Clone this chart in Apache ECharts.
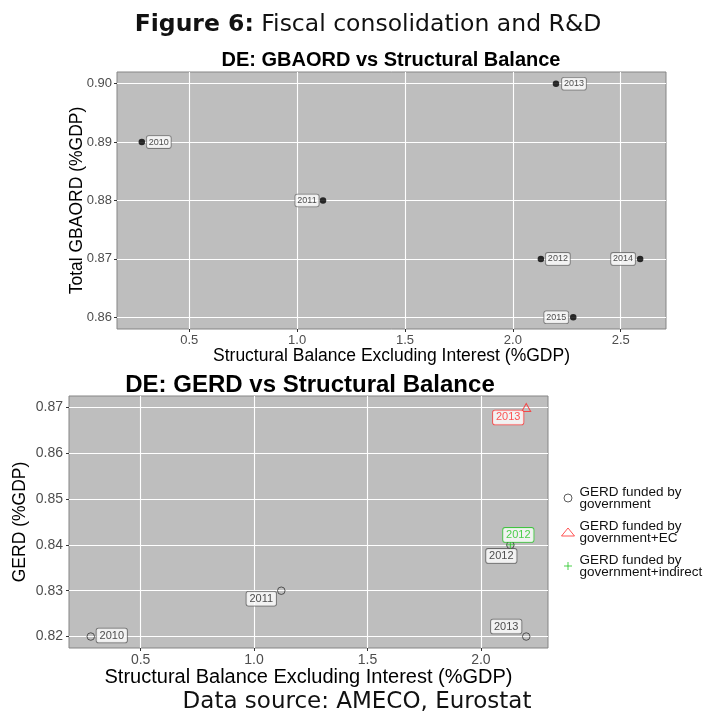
<!DOCTYPE html>
<html><head><meta charset="utf-8">
<script src="https://cdn.jsdelivr.net/npm/echarts@6/dist/echarts.min.js"></script>
<style>html,body{margin:0;padding:0;background:#fff}#c{width:710px;height:721px}</style>
</head><body><div id="c"></div>
<script>
// ---- data ----
const gbaordYears = ['2010', '2011', '2012', '2013', '2014', '2015'];
const gbaordSB    = [0.28, 1.12, 2.13, 2.20, 2.59, 2.28];
const gbaordVal   = [0.89, 0.88, 0.87, 0.90, 0.87, 0.86];

const gerdGovYears = ['2010', '2011', '2012', '2013'];
const gerdGovSB    = [0.28, 1.12, 2.13, 2.20];
const gerdGovVal   = [0.82, 0.83, 0.84, 0.82];

const gerdEcYears = ['2013'];
const gerdEcSB    = [2.20];
const gerdEcVal   = [0.87];

const gerdIndYears = ['2012'];
const gerdIndSB    = [2.13];
const gerdIndVal   = [0.84];

const topXTicks = [0.5, 1.0, 1.5, 2.0, 2.5];
const topYTicks = [0.86, 0.87, 0.88, 0.89, 0.90];
const botXTicks = [0.5, 1.0, 1.5, 2.0];
const botYTicks = [0.82, 0.83, 0.84, 0.85, 0.86, 0.87];

const legendNames = ['GERD funded by\ngovernment', 'GERD funded by\ngovernment+EC', 'GERD funded by\ngovernment+indirect'];

// ---- label placement (style only) ----
const gbaordLabelOffset = [[17, 0], [-16, 0], [17, 0], [18, 0], [-17, 0], [-17, 0]];
const gerdGovLabelOffset = [[21, -1], [-20, 8], [-9, 11], [-20, -10]];
const gerdEcLabelOffset = [[-18, 10]];
const gerdIndLabelOffset = [[8, -10]];

const FONT = "'Liberation Sans', Arial, Helvetica, sans-serif";
const RED = '#ff2a2a', GREEN = '#22c422', GOV = '#333333';

function pts(xs, ys, years, offs) {
  return xs.map((x, i) => ({
    value: [x, ys[i], years[i]],
    label: { offset: offs[i] }
  }));
}

function valueAxis(grid, min, max, ticks, dec, fs, margin, name, nameGap, nameFs) {
  return {
    type: 'value', gridIndex: grid, min: min, max: max,
    axisLine: { show: false },
    axisTick: { show: true, length: 3, customValues: ticks, lineStyle: { color: '#333', width: 1 } },
    axisLabel: { customValues: ticks, formatter: v => v.toFixed(dec), color: '#4d4d4d', fontSize: fs, fontFamily: FONT, margin: margin },
    splitLine: { show: true, lineStyle: { color: '#ffffff', width: 1.1 } },
    name: name, nameLocation: 'middle', nameGap: nameGap, nameMoveOverlap: false,
    nameTextStyle: { color: '#000', fontSize: nameFs, fontFamily: FONT }
  };
}

const chart = echarts.init(document.getElementById('c'), null, { renderer: 'canvas' });
chart.setOption({
  animation: false,
  backgroundColor: '#fff',
  title: [
    { text: '{b|Figure 6:} Fiscal consolidation and R&D', left: 363, top: 8, textAlign: 'center',
      textStyle: { fontFamily: 'DejaVu Sans', fontSize: 23.5, fontWeight: 'normal', color: '#111',
        rich: { b: { fontFamily: 'DejaVu Sans', fontSize: 23.5, fontWeight: 'bold', color: '#111' } } } },
    { text: 'DE: GBAORD vs Structural Balance', left: 386, top: 45, textAlign: 'center',
      textStyle: { fontFamily: FONT, fontSize: 20, fontWeight: 'bold', color: '#000' } },
    { text: 'DE: GERD vs Structural Balance', left: 305, top: 368, textAlign: 'center',
      textStyle: { fontFamily: FONT, fontSize: 24, fontWeight: 'bold', color: '#000' } },
    { text: 'Data source: AMECO, Eurostat', left: 352, top: 686, textAlign: 'center',
      textStyle: { fontFamily: 'DejaVu Sans', fontSize: 23, fontWeight: 'normal', color: '#111' } }
  ],
  grid: [
    { left: 117, top: 72, width: 549, height: 257, show: true, backgroundColor: '#bebebe', borderColor: '#858585', borderWidth: 1 },
    { left: 69, top: 396, width: 479, height: 252, show: true, backgroundColor: '#bebebe', borderColor: '#858585', borderWidth: 1 }
  ],
  xAxis: [
    valueAxis(0, 0.165, 2.71, topXTicks, 1, 13, 5, 'Structural Balance Excluding Interest (%GDP)', 18, 17.5),
    valueAxis(1, 0.184, 2.296, botXTicks, 1, 14, 5, 'Structural Balance Excluding Interest (%GDP)', 19, 20)
  ],
  yAxis: [
    valueAxis(0, 0.858, 0.902, topYTicks, 2, 13, 5, 'Total GBAORD (%GDP)', 31, 17.5),
    valueAxis(1, 0.8175, 0.8725, botYTicks, 2, 14, 6, 'GERD (%GDP)', 40, 17.5)
  ],
  legend: {
    orient: 'vertical', left: 556, top: 480, itemGap: 8, itemWidth: 13, itemHeight: 8,
    data: legendNames,
    textStyle: { fontFamily: FONT, fontSize: 13.5, lineHeight: 12, color: '#111' },
    itemStyle: { borderWidth: 1 }
  },
  series: [
    {
      type: 'scatter', name: 'GBAORD', xAxisIndex: 0, yAxisIndex: 0,
      symbol: 'circle', symbolSize: 6.5, itemStyle: { color: '#000' },
      data: pts(gbaordSB, gbaordVal, gbaordYears, gbaordLabelOffset),
      label: { show: true, position: 'inside', formatter: p => p.value[2], fontFamily: FONT, fontSize: 9, lineHeight: 10,
        color: '#222', backgroundColor: '#fff', borderColor: '#666', borderWidth: 0.8, borderRadius: 2, padding: [1, 2] }
    },
    {
      type: 'scatter', name: legendNames[0], xAxisIndex: 1, yAxisIndex: 1,
      symbol: 'circle', symbolSize: 7.5, z: 2,
      itemStyle: { color: 'transparent', borderColor: GOV, borderWidth: 1 },
      data: pts(gerdGovSB, gerdGovVal, gerdGovYears, gerdGovLabelOffset),
      label: { show: true, position: 'inside', formatter: p => p.value[2], fontFamily: FONT, fontSize: 11, lineHeight: 12,
        color: '#222', backgroundColor: '#fff', borderColor: '#555', borderWidth: 0.8, borderRadius: 2, padding: [1, 3] }
    },
    {
      type: 'scatter', name: legendNames[1], xAxisIndex: 1, yAxisIndex: 1,
      symbol: 'triangle', symbolSize: [9, 8], z: 3,
      itemStyle: { color: 'transparent', borderColor: RED, borderWidth: 1 },
      data: pts(gerdEcSB, gerdEcVal, gerdEcYears, gerdEcLabelOffset),
      label: { show: true, position: 'inside', formatter: p => p.value[2], fontFamily: FONT, fontSize: 11, lineHeight: 12,
        color: RED, backgroundColor: '#fff', borderColor: RED, borderWidth: 0.8, borderRadius: 2, padding: [1, 3] }
    },
    {
      type: 'scatter', name: legendNames[2], xAxisIndex: 1, yAxisIndex: 1,
      symbol: 'path://M0,5L10,5M5,0L5,10', symbolSize: 8, z: 4,
      itemStyle: { color: 'transparent', borderColor: GREEN, borderWidth: 1 },
      data: pts(gerdIndSB, gerdIndVal, gerdIndYears, gerdIndLabelOffset),
      label: { show: true, position: 'inside', formatter: p => p.value[2], fontFamily: FONT, fontSize: 11, lineHeight: 12,
        color: GREEN, backgroundColor: '#fff', borderColor: GREEN, borderWidth: 0.8, borderRadius: 2, padding: [1, 3] }
    }
  ]
});
</script></body></html>
